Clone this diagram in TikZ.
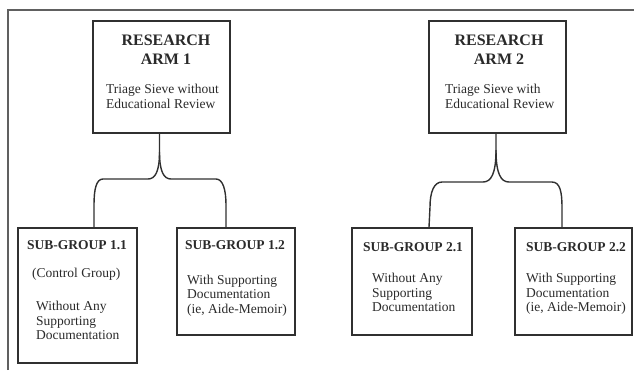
\documentclass[tikz,border=0pt]{standalone}
\usepackage{fontspec}
\setmainfont{Liberation Serif}
\begin{document}
\begin{tikzpicture}[x=1pt,y=-1pt,
  box/.style={draw=linegray,line width=1.4pt,minimum width=#1,inner sep=0pt},
  wire/.style={draw=linegray,line width=1.4pt},
  frame/.style={draw=framegray,line width=2pt},
  ttl/.style={font=\fontsize{16}{19}\selectfont\bfseries,text=textgray,align=center,inner sep=0pt,anchor=north},
  subttl/.style={font=\fontsize{13.5}{15}\selectfont\bfseries,text=textgray,inner sep=0pt,anchor=north west},
  body/.style={font=\fontsize{13.5}{15}\selectfont,text=textgray,align=left,inner sep=0pt,anchor=north west},
  sbody/.style={font=\fontsize{13.5}{14.7}\selectfont,text=textgray,align=left,inner sep=0pt,anchor=north west}]
\definecolor{linegray}{HTML}{303030}
\definecolor{framegray}{HTML}{606060}
\definecolor{textgray}{HTML}{2A2A2A}
\useasboundingbox (0,0) rectangle (634,370);
% frame
\coordinate (fbl) at (8,370);
\coordinate (ftl) at (8,10);
\coordinate (ftr) at (634,10);
\draw[frame] (fbl) -- (ftl) -- (ftr);
% boxes
\node[box=137pt,minimum height=112pt] (a1) at (161.5,77) {};
\node[box=137pt,minimum height=112pt] (a2) at (497.5,77) {};
\node[box=119pt,minimum height=135pt] (s11) at (77.5,295.5) {};
\node[box=118pt,minimum height=107pt] (s12) at (236,281.5) {};
\node[box=120pt,minimum height=107pt] (s21) at (412,281.5) {};
\node[box=117pt,minimum height=107pt] (s22) at (573.5,281.5) {};
% texts
\node[ttl] (a1t) at (166,34.5) {RESEARCH\\ARM 1};
\node[ttl] (a2t) at (499,34.5) {RESEARCH\\ARM 2};
\node[body] (a1b) at (106,83.5) {Triage Sieve without\\Educational Review};
\node[body] (a2b) at (445,83.5) {Triage Sieve with\\Educational Review};
\node[subttl] (s11t) at (27,240.5) {SUB-GROUP 1.1};
\node[subttl] (s12t) at (185,240.5) {SUB-GROUP 1.2};
\node[subttl] (s21t) at (363,242) {SUB-GROUP 2.1};
\node[subttl] (s22t) at (526,242) {SUB-GROUP 2.2};
\node[sbody] (s11c) at (32,267.5) {(Control Group)};
\node[sbody] (s11b) at (36,301) {Without Any\\Supporting\\Documentation};
\node[sbody] (s12b) at (187,274.5) {With Supporting\\Documentation\\(ie, Aide-Memoir)};
\node[sbody] (s21b) at (372,273) {Without Any\\Supporting\\Documentation};
\node[sbody] (s22b) at (526,273) {With Supporting\\Documentation\\(ie, Aide-Memoir)};
% brace 1
\coordinate (b1top) at (a1.south -| 159.5,0);
\coordinate (b1l) at (s11.north -| 94,0);
\coordinate (b1r) at (s12.north -| 226,0);
\draw[wire] (b1top) -- (159.5,152)
  .. controls (159.5,172) and (155,179) .. (148,179) -- (103,179)
  .. controls (96,179) and (94,190) .. (94,205) -- (b1l);
\draw[wire] (159.5,152)
  .. controls (159.5,172) and (164,179) .. (171,179) -- (216,179)
  .. controls (223,179) and (226,190) .. (226,205) -- (b1r);
% brace 2
\coordinate (b2top) at (a2.south -| 496,0);
\coordinate (b2l) at (s21.north -| 429,0);
\coordinate (b2r) at (s22.north -| 562,0);
\draw[wire] (b2top) -- (496,150)
  .. controls (496,174) and (491,182) .. (483,182) -- (442,182)
  .. controls (434,182) and (430,192) .. (430,207) -- (b2l);
\draw[wire] (496,150)
  .. controls (496,174) and (501,182) .. (509,182) -- (552,182)
  .. controls (560,182) and (562,192) .. (562,207) -- (b2r);
\end{tikzpicture}
\end{document}
